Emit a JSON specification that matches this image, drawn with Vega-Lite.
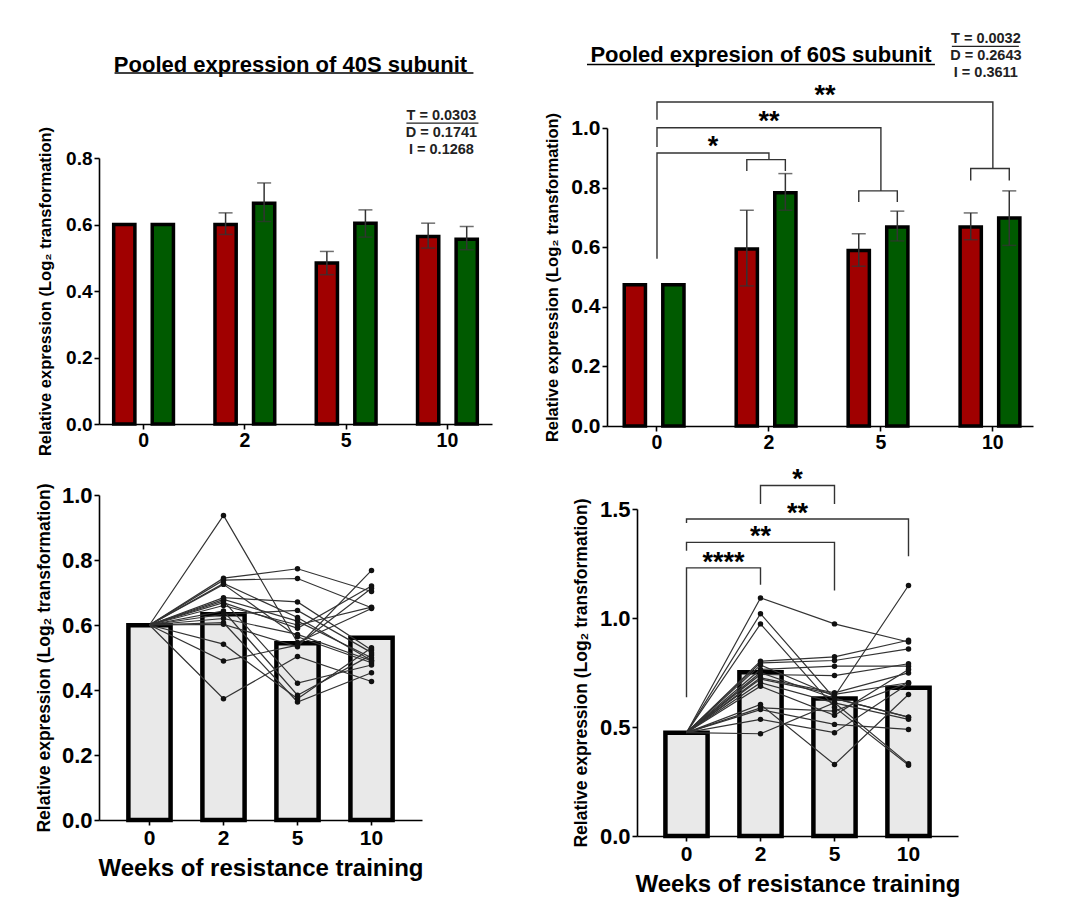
{
  "$schema": "https://vega.github.io/schema/vega-lite/v6.json",
  "background": "white",
  "padding": {"left": 35, "top": 30, "right": 5, "bottom": 5},
  "config": {
    "font": "Liberation Sans",
    "view": {"stroke": null},
    "axis": {"domainColor": "#000", "domainWidth": 1.6, "tickColor": "#000", "tickWidth": 1.6, "tickSize": 5, "labelColor": "#000", "labelFont": "Liberation Sans", "labelFontWeight": "bold", "labelPadding": 2, "titleFont": "Liberation Sans", "titleFontWeight": "bold", "titleColor": "#000", "grid": false},
    "axisX": {"labelAngle": 0},
    "text": {"font": "Liberation Sans", "color": "#000"}
  },
  "datasets": {
    "tl_bars": [
      {"week": 0, "grp": "G1", "mean": 0.600},
      {"week": 0, "grp": "G2", "mean": 0.600},
      {"week": 2, "grp": "G1", "mean": 0.600, "lo": 0.570, "hi": 0.635},
      {"week": 2, "grp": "G2", "mean": 0.664, "lo": 0.609, "hi": 0.725},
      {"week": 5, "grp": "G1", "mean": 0.484, "lo": 0.449, "hi": 0.519},
      {"week": 5, "grp": "G2", "mean": 0.604, "lo": 0.562, "hi": 0.644},
      {"week": 10, "grp": "G1", "mean": 0.564, "lo": 0.529, "hi": 0.604},
      {"week": 10, "grp": "G2", "mean": 0.556, "lo": 0.524, "hi": 0.594}
    ],
    "tr_bars": [
      {"week": 0, "grp": "G1", "mean": 0.474},
      {"week": 0, "grp": "G2", "mean": 0.474},
      {"week": 2, "grp": "G1", "mean": 0.594, "lo": 0.470, "hi": 0.724},
      {"week": 2, "grp": "G2", "mean": 0.783, "lo": 0.724, "hi": 0.847},
      {"week": 5, "grp": "G1", "mean": 0.589, "lo": 0.536, "hi": 0.645},
      {"week": 5, "grp": "G2", "mean": 0.668, "lo": 0.621, "hi": 0.721},
      {"week": 10, "grp": "G1", "mean": 0.668, "lo": 0.625, "hi": 0.715},
      {"week": 10, "grp": "G2", "mean": 0.698, "lo": 0.606, "hi": 0.789}
    ],
    "tr_brackets": [
      {"id": "a", "week": 0, "val": 0.561, "seq": 1}, {"id": "a", "week": 0, "val": 0.916, "seq": 2}, {"id": "a", "week": 2, "val": 0.916, "seq": 3}, {"id": "a", "week": 2, "val": 0.894, "seq": 4},
      {"id": "b", "week": 0, "val": 0.936, "seq": 1}, {"id": "b", "week": 0, "val": 1.001, "seq": 2}, {"id": "b", "week": 5, "val": 1.001, "seq": 3}, {"id": "b", "week": 5, "val": 0.789, "seq": 4},
      {"id": "c", "week": 0, "val": 1.028, "seq": 1}, {"id": "c", "week": 0, "val": 1.087, "seq": 2}, {"id": "c", "week": 10, "val": 1.087, "seq": 3}, {"id": "c", "week": 10, "val": 0.864, "seq": 4}
    ],
    "tr_sub": [
      {"id": "d", "week": 2, "grp": "G1", "val": 0.856, "seq": 1}, {"id": "d", "week": 2, "grp": "G1", "val": 0.894, "seq": 2}, {"id": "d", "week": 2, "grp": "G2", "val": 0.894, "seq": 3}, {"id": "d", "week": 2, "grp": "G2", "val": 0.856, "seq": 4},
      {"id": "e", "week": 5, "grp": "G1", "val": 0.752, "seq": 1}, {"id": "e", "week": 5, "grp": "G1", "val": 0.789, "seq": 2}, {"id": "e", "week": 5, "grp": "G2", "val": 0.789, "seq": 3}, {"id": "e", "week": 5, "grp": "G2", "val": 0.752, "seq": 4},
      {"id": "f", "week": 10, "grp": "G1", "val": 0.824, "seq": 1}, {"id": "f", "week": 10, "grp": "G1", "val": 0.864, "seq": 2}, {"id": "f", "week": 10, "grp": "G2", "val": 0.864, "seq": 3}, {"id": "f", "week": 10, "grp": "G2", "val": 0.824, "seq": 4}
    ],
    "bl_bars": [
      {"week": 0, "mean": 0.599}, {"week": 2, "mean": 0.633}, {"week": 5, "mean": 0.544}, {"week": 10, "mean": 0.561}
    ],
    "br_bars": [
      {"week": 0, "mean": 0.4735}, {"week": 2, "mean": 0.7515}, {"week": 5, "mean": 0.631}, {"week": 10, "mean": 0.680}
    ],
    "bl_subj": [
      {"s": 1, "week": 0, "v": 0.6}, {"s": 1, "week": 2, "v": 0.937}, {"s": 1, "week": 5, "v": 0.546}, {"s": 1, "week": 10, "v": 0.651},
      {"s": 2, "week": 0, "v": 0.6}, {"s": 2, "week": 2, "v": 0.744}, {"s": 2, "week": 5, "v": 0.773}, {"s": 2, "week": 10, "v": 0.703},
      {"s": 3, "week": 0, "v": 0.6}, {"s": 3, "week": 2, "v": 0.738}, {"s": 3, "week": 5, "v": 0.743}, {"s": 3, "week": 10, "v": 0.653},
      {"s": 4, "week": 0, "v": 0.6}, {"s": 4, "week": 2, "v": 0.728}, {"s": 4, "week": 5, "v": 0.623}, {"s": 4, "week": 10, "v": 0.491},
      {"s": 5, "week": 0, "v": 0.6}, {"s": 5, "week": 2, "v": 0.725}, {"s": 5, "week": 5, "v": 0.564}, {"s": 5, "week": 10, "v": 0.484},
      {"s": 6, "week": 0, "v": 0.6}, {"s": 6, "week": 2, "v": 0.684}, {"s": 6, "week": 5, "v": 0.671}, {"s": 6, "week": 10, "v": 0.523},
      {"s": 7, "week": 0, "v": 0.6}, {"s": 7, "week": 2, "v": 0.679}, {"s": 7, "week": 5, "v": 0.612}, {"s": 7, "week": 10, "v": 0.499},
      {"s": 8, "week": 0, "v": 0.6}, {"s": 8, "week": 2, "v": 0.674}, {"s": 8, "week": 5, "v": 0.421}, {"s": 8, "week": 10, "v": 0.477},
      {"s": 9, "week": 0, "v": 0.6}, {"s": 9, "week": 2, "v": 0.669}, {"s": 9, "week": 5, "v": 0.590}, {"s": 9, "week": 10, "v": 0.720},
      {"s": 10, "week": 0, "v": 0.6}, {"s": 10, "week": 2, "v": 0.643}, {"s": 10, "week": 5, "v": 0.384}, {"s": 10, "week": 10, "v": 0.508},
      {"s": 11, "week": 0, "v": 0.6}, {"s": 11, "week": 2, "v": 0.633}, {"s": 11, "week": 5, "v": 0.645}, {"s": 11, "week": 10, "v": 0.515},
      {"s": 12, "week": 0, "v": 0.6}, {"s": 12, "week": 2, "v": 0.607}, {"s": 12, "week": 5, "v": 0.363}, {"s": 12, "week": 10, "v": 0.453},
      {"s": 13, "week": 0, "v": 0.6}, {"s": 13, "week": 2, "v": 0.602}, {"s": 13, "week": 5, "v": 0.533}, {"s": 13, "week": 10, "v": 0.768},
      {"s": 14, "week": 0, "v": 0.6}, {"s": 14, "week": 2, "v": 0.541}, {"s": 14, "week": 5, "v": 0.373}, {"s": 14, "week": 10, "v": 0.530},
      {"s": 15, "week": 0, "v": 0.6}, {"s": 15, "week": 2, "v": 0.489}, {"s": 15, "week": 5, "v": 0.538}, {"s": 15, "week": 10, "v": 0.713},
      {"s": 16, "week": 0, "v": 0.6}, {"s": 16, "week": 2, "v": 0.373}, {"s": 16, "week": 5, "v": 0.503}, {"s": 16, "week": 10, "v": 0.426},
      {"s": 17, "week": 0, "v": 0.6}, {"s": 17, "week": 2, "v": 0.660}, {"s": 17, "week": 5, "v": 0.600}, {"s": 17, "week": 10, "v": 0.655},
      {"s": 18, "week": 0, "v": 0.6}, {"s": 18, "week": 2, "v": 0.620}, {"s": 18, "week": 5, "v": 0.571}, {"s": 18, "week": 10, "v": 0.490}
    ],
    "br_subj": [
      {"s": 1, "week": 0, "v": 0.474}, {"s": 1, "week": 2, "v": 1.092}, {"s": 1, "week": 5, "v": 0.973}, {"s": 1, "week": 10, "v": 0.890},
      {"s": 2, "week": 0, "v": 0.474}, {"s": 2, "week": 2, "v": 1.020}, {"s": 2, "week": 5, "v": 0.631}, {"s": 2, "week": 10, "v": 0.545},
      {"s": 3, "week": 0, "v": 0.474}, {"s": 3, "week": 2, "v": 0.973}, {"s": 3, "week": 5, "v": 0.591}, {"s": 3, "week": 10, "v": 0.325},
      {"s": 4, "week": 0, "v": 0.474}, {"s": 4, "week": 2, "v": 0.802}, {"s": 4, "week": 5, "v": 0.822}, {"s": 4, "week": 10, "v": 0.898},
      {"s": 5, "week": 0, "v": 0.474}, {"s": 5, "week": 2, "v": 0.794}, {"s": 5, "week": 5, "v": 0.805}, {"s": 5, "week": 10, "v": 0.858},
      {"s": 6, "week": 0, "v": 0.474}, {"s": 6, "week": 2, "v": 0.784}, {"s": 6, "week": 5, "v": 0.641}, {"s": 6, "week": 10, "v": 1.149},
      {"s": 7, "week": 0, "v": 0.474}, {"s": 7, "week": 2, "v": 0.764}, {"s": 7, "week": 5, "v": 0.779}, {"s": 7, "week": 10, "v": 0.779},
      {"s": 8, "week": 0, "v": 0.474}, {"s": 8, "week": 2, "v": 0.741}, {"s": 8, "week": 5, "v": 0.736}, {"s": 8, "week": 10, "v": 0.790},
      {"s": 9, "week": 0, "v": 0.474}, {"s": 9, "week": 2, "v": 0.726}, {"s": 9, "week": 5, "v": 0.657}, {"s": 9, "week": 10, "v": 0.748},
      {"s": 10, "week": 0, "v": 0.474}, {"s": 10, "week": 2, "v": 0.703}, {"s": 10, "week": 5, "v": 0.611}, {"s": 10, "week": 10, "v": 0.535},
      {"s": 11, "week": 0, "v": 0.474}, {"s": 11, "week": 2, "v": 0.687}, {"s": 11, "week": 5, "v": 0.554}, {"s": 11, "week": 10, "v": 0.764},
      {"s": 12, "week": 0, "v": 0.474}, {"s": 12, "week": 2, "v": 0.603}, {"s": 12, "week": 5, "v": 0.328}, {"s": 12, "week": 10, "v": 0.649},
      {"s": 13, "week": 0, "v": 0.474}, {"s": 13, "week": 2, "v": 0.588}, {"s": 13, "week": 5, "v": 0.573}, {"s": 13, "week": 10, "v": 0.703},
      {"s": 14, "week": 0, "v": 0.474}, {"s": 14, "week": 2, "v": 0.580}, {"s": 14, "week": 5, "v": 0.512}, {"s": 14, "week": 10, "v": 0.489},
      {"s": 15, "week": 0, "v": 0.474}, {"s": 15, "week": 2, "v": 0.535}, {"s": 15, "week": 5, "v": 0.474}, {"s": 15, "week": 10, "v": 0.698},
      {"s": 16, "week": 0, "v": 0.474}, {"s": 16, "week": 2, "v": 0.469}, {"s": 16, "week": 5, "v": 0.611}, {"s": 16, "week": 10, "v": 0.331},
      {"s": 17, "week": 0, "v": 0.474}, {"s": 17, "week": 2, "v": 0.750}, {"s": 17, "week": 5, "v": 0.631}, {"s": 17, "week": 10, "v": 0.545},
      {"s": 18, "week": 0, "v": 0.474}, {"s": 18, "week": 2, "v": 0.720}, {"s": 18, "week": 5, "v": 0.650}, {"s": 18, "week": 10, "v": 0.703}
    ],
    "br_brackets": [
      {"id": "a", "week": 2, "val": 1.523, "seq": 1}, {"id": "a", "week": 2, "val": 1.608, "seq": 2}, {"id": "a", "week": 5, "val": 1.608, "seq": 3}, {"id": "a", "week": 5, "val": 1.523, "seq": 4},
      {"id": "b", "week": 0, "val": 1.436, "seq": 1}, {"id": "b", "week": 0, "val": 1.454, "seq": 2}, {"id": "b", "week": 10, "val": 1.454, "seq": 3}, {"id": "b", "week": 10, "val": 1.283, "seq": 4},
      {"id": "c", "week": 0, "val": 1.309, "seq": 1}, {"id": "c", "week": 0, "val": 1.347, "seq": 2}, {"id": "c", "week": 5, "val": 1.347, "seq": 3}, {"id": "c", "week": 5, "val": 1.126, "seq": 4},
      {"id": "d", "week": 0, "val": 0.637, "seq": 1}, {"id": "d", "week": 0, "val": 1.230, "seq": 2}, {"id": "d", "week": 2, "val": 1.230, "seq": 3}, {"id": "d", "week": 2, "val": 1.153, "seq": 4}
    ]
  },
  "spacing": 10,
  "vconcat": [
    {
      "spacing": 52,
      "hconcat": [
        {
          "width": 393,
          "height": 296,
          "layer": [
            {
              "data": {"name": "tl_bars"},
              "mark": {"type": "bar", "stroke": "#000", "strokeWidth": 3.5},
              "encoding": {
                "x": {"field": "week", "type": "ordinal", "scale": {"paddingInner": 0.41, "paddingOuter": 0.145}, "axis": {"title": null, "labelFontSize": 19.5}},
                "xOffset": {"field": "grp", "type": "nominal", "scale": {"domain": ["G1", "G2"], "paddingInner": 0.45, "paddingOuter": 0}},
                "y": {"field": "mean", "type": "quantitative", "scale": {"domain": [0, 0.8], "range": [296, 30]}, "axis": {"values": [0, 0.2, 0.4, 0.6, 0.8], "format": ".1f", "labelFontSize": 19, "title": "Relative expression (Log₂ transformation)", "titleFontSize": 16.5, "titlePadding": 12}},
                "color": {"field": "grp", "type": "nominal", "scale": {"domain": ["G1", "G2"], "range": ["#a00000", "#005a00"]}, "legend": null}
              }
            },
            {
              "data": {"name": "tl_bars"},
              "transform": [{"filter": "datum.hi != null"}],
              "mark": {"type": "rule", "color": "#333", "strokeWidth": 1.5},
              "encoding": {"x": {"field": "week", "type": "ordinal"}, "xOffset": {"field": "grp", "type": "nominal"}, "y": {"field": "lo", "type": "quantitative", "scale": {"domain": [0, 0.8], "range": [296, 30]}}, "y2": {"field": "hi"}}
            },
            {
              "data": {"name": "tl_bars"},
              "transform": [{"filter": "datum.hi != null"}],
              "mark": {"type": "tick", "orient": "horizontal", "size": 14, "thickness": 1.5, "color": "#333"},
              "encoding": {"x": {"field": "week", "type": "ordinal"}, "xOffset": {"field": "grp", "type": "nominal"}, "y": {"field": "hi", "type": "quantitative", "scale": {"domain": [0, 0.8], "range": [296, 30]}}}
            },
            {
              "data": {"name": "tl_bars"},
              "transform": [{"filter": "datum.hi != null"}],
              "mark": {"type": "tick", "orient": "horizontal", "size": 14, "thickness": 1.5, "color": "#333"},
              "encoding": {"x": {"field": "week", "type": "ordinal"}, "xOffset": {"field": "grp", "type": "nominal"}, "y": {"field": "lo", "type": "quantitative", "scale": {"domain": [0, 0.8], "range": [296, 30]}}}
            },
            {
              "data": {"values": [{"t": "Pooled expression of 40S subunit"}]},
              "mark": {"type": "text", "fontSize": 22, "fontWeight": "bold", "dx": -5},
              "encoding": {"text": {"field": "t"}, "y": {"datum": 1.08}}
            },
            {
              "data": {"values": [{}]},
              "mark": {"type": "rule", "color": "#000", "strokeWidth": 1.5, "xOffset": -29, "x2Offset": 26},
              "encoding": {"x": {"datum": 0, "type": "ordinal"}, "x2": {"datum": 10}, "y": {"datum": 1.056}}
            },
            {
              "data": {"values": [{"t": "T = 0.0303", "week": 10, "v": 0.926}, {"t": "D = 0.1741", "week": 10, "v": 0.875}, {"t": "I = 0.1268", "week": 10, "v": 0.824}]},
              "mark": {"type": "text", "fontSize": 14.5, "fontWeight": "bold", "color": "#222", "dx": -6},
              "encoding": {"text": {"field": "t"}, "x": {"field": "week", "type": "ordinal"}, "y": {"field": "v", "type": "quantitative", "scale": {"domain": [0, 0.8], "range": [296, 30]}}}
            },
            {
              "data": {"values": [{}]},
              "mark": {"type": "rule", "color": "#222", "strokeWidth": 1.2, "xOffset": -41, "x2Offset": 31},
              "encoding": {"x": {"datum": 10, "type": "ordinal"}, "x2": {"datum": 10}, "y": {"datum": 0.905}}
            }
          ]
        },
        {
          "width": 426,
          "height": 298,
          "layer": [
            {
              "data": {"name": "tr_bars"},
              "mark": {"type": "bar", "stroke": "#000", "strokeWidth": 3.5},
              "encoding": {
                "x": {"field": "week", "type": "ordinal", "scale": {"paddingInner": 0.415, "paddingOuter": 0.11, "align": 0.7}, "axis": {"title": null, "labelFontSize": 19.5}},
                "xOffset": {"field": "grp", "type": "nominal", "scale": {"domain": ["G1", "G2"], "paddingInner": 0.44, "paddingOuter": 0}},
                "y": {"field": "mean", "type": "quantitative", "scale": {"domain": [0, 1]}, "axis": {"values": [0, 0.2, 0.4, 0.6, 0.8, 1.0], "format": ".1f", "labelFontSize": 21, "title": "Relative expression (Log₂ transformation)", "titleFontSize": 16.5, "titlePadding": 10}},
                "color": {"field": "grp", "type": "nominal", "scale": {"domain": ["G1", "G2"], "range": ["#a00000", "#005a00"]}, "legend": null}
              }
            },
            {
              "data": {"name": "tr_bars"},
              "transform": [{"filter": "datum.hi != null"}],
              "mark": {"type": "rule", "color": "#333", "strokeWidth": 1.5},
              "encoding": {"x": {"field": "week", "type": "ordinal"}, "xOffset": {"field": "grp", "type": "nominal"}, "y": {"field": "lo", "type": "quantitative", "scale": {"domain": [0, 1]}}, "y2": {"field": "hi"}}
            },
            {
              "data": {"name": "tr_bars"},
              "transform": [{"filter": "datum.hi != null"}],
              "mark": {"type": "tick", "orient": "horizontal", "size": 14, "thickness": 1.5, "color": "#333"},
              "encoding": {"x": {"field": "week", "type": "ordinal"}, "xOffset": {"field": "grp", "type": "nominal"}, "y": {"field": "hi", "type": "quantitative", "scale": {"domain": [0, 1]}}}
            },
            {
              "data": {"name": "tr_bars"},
              "transform": [{"filter": "datum.hi != null"}],
              "mark": {"type": "tick", "orient": "horizontal", "size": 14, "thickness": 1.5, "color": "#333"},
              "encoding": {"x": {"field": "week", "type": "ordinal"}, "xOffset": {"field": "grp", "type": "nominal"}, "y": {"field": "lo", "type": "quantitative", "scale": {"domain": [0, 1]}}}
            },
            {
              "data": {"name": "tr_brackets"},
              "mark": {"type": "line", "color": "#333", "strokeWidth": 1.4},
              "encoding": {"x": {"field": "week", "type": "ordinal"}, "y": {"field": "val", "type": "quantitative", "scale": {"domain": [0, 1]}}, "detail": {"field": "id"}, "order": {"field": "seq"}}
            },
            {
              "data": {"name": "tr_sub"},
              "mark": {"type": "line", "color": "#333", "strokeWidth": 1.4},
              "encoding": {"x": {"field": "week", "type": "ordinal"}, "xOffset": {"field": "grp", "type": "nominal"}, "y": {"field": "val", "type": "quantitative", "scale": {"domain": [0, 1]}}, "detail": {"field": "id"}, "order": {"field": "seq"}}
            },
            {
              "data": {"values": [{"week": 2, "val": 1.001, "s": "**"}]},
              "mark": {"type": "text", "fontSize": 27, "fontWeight": "bold", "baseline": "alphabetic", "dy": 2},
              "encoding": {"text": {"field": "s"}, "x": {"field": "week", "type": "ordinal"}, "y": {"field": "val", "type": "quantitative", "scale": {"domain": [0, 1]}}}
            },
            {
              "data": {"values": [{"week": 0, "val": 0.916, "s": "*"}, {"week": 2, "val": 1.087, "s": "**"}]},
              "mark": {"type": "text", "fontSize": 27, "fontWeight": "bold", "baseline": "alphabetic", "dx": 56, "dy": 2},
              "encoding": {"text": {"field": "s"}, "x": {"field": "week", "type": "ordinal"}, "y": {"field": "val", "type": "quantitative", "scale": {"domain": [0, 1]}}}
            },
            {
              "data": {"values": [{"t": "Pooled expresion of 60S subunit", "week": 2}]},
              "mark": {"type": "text", "fontSize": 22, "fontWeight": "bold", "dx": -8},
              "encoding": {"text": {"field": "t"}, "x": {"field": "week", "type": "ordinal"}, "y": {"datum": 1.245}}
            },
            {
              "data": {"values": [{}]},
              "mark": {"type": "rule", "color": "#000", "strokeWidth": 1.5, "xOffset": -70, "x2Offset": 54},
              "encoding": {"x": {"datum": 0, "type": "ordinal"}, "x2": {"datum": 5}, "y": {"datum": 1.213}}
            },
            {
              "data": {"values": [{"t": "T = 0.0032", "week": 10, "v": 1.299}, {"t": "D = 0.2643", "week": 10, "v": 1.243}, {"t": "I = 0.3611", "week": 10, "v": 1.186}]},
              "mark": {"type": "text", "fontSize": 14.5, "fontWeight": "bold", "color": "#222", "dx": -7},
              "encoding": {"text": {"field": "t"}, "x": {"field": "week", "type": "ordinal"}, "y": {"field": "v", "type": "quantitative", "scale": {"domain": [0, 1]}}}
            },
            {
              "data": {"values": [{}]},
              "mark": {"type": "rule", "color": "#222", "strokeWidth": 1.2, "xOffset": -41, "x2Offset": 26},
              "encoding": {"x": {"datum": 10, "type": "ordinal"}, "x2": {"datum": 10}, "y": {"datum": 1.274}}
            }
          ]
        }
      ]
    },
    {
      "spacing": 148,
      "hconcat": [
        {
          "width": 323,
          "height": 325,
          "layer": [
            {
              "data": {"name": "bl_bars"},
              "mark": {"type": "bar", "fill": "#e9e9e9", "stroke": "#000", "strokeWidth": 4.5},
              "encoding": {
                "x": {"field": "week", "type": "ordinal", "scale": {"paddingInner": 0.43, "paddingOuter": 0.397}, "axis": {"title": "Weeks of resistance training", "titleFontSize": 24, "titlePadding": 8, "labelFontSize": 21}},
                "y": {"field": "mean", "type": "quantitative", "scale": {"domain": [0, 1]}, "axis": {"values": [0, 0.2, 0.4, 0.6, 0.8, 1.0], "format": ".1f", "labelFontSize": 22, "title": "Relative expression (Log₂ transformation)", "titleFontSize": 17.5, "titlePadding": 8}}
              }
            },
            {
              "data": {"name": "bl_subj"},
              "mark": {"type": "line", "color": "#333", "strokeWidth": 1.2},
              "encoding": {"x": {"field": "week", "type": "ordinal"}, "y": {"field": "v", "type": "quantitative", "scale": {"domain": [0, 1]}}, "detail": {"field": "s"}}
            },
            {
              "data": {"name": "bl_subj"},
              "transform": [{"filter": "datum.week != 0"}],
              "mark": {"type": "point", "filled": true, "color": "#111", "size": 30, "opacity": 1},
              "encoding": {"x": {"field": "week", "type": "ordinal"}, "y": {"field": "v", "type": "quantitative", "scale": {"domain": [0, 1]}}}
            }
          ]
        },
        {
          "width": 321,
          "height": 341,
          "layer": [
            {
              "data": {"name": "br_bars"},
              "mark": {"type": "bar", "fill": "#e9e9e9", "stroke": "#000", "strokeWidth": 4.5},
              "encoding": {
                "x": {"field": "week", "type": "ordinal", "scale": {"paddingInner": 0.43, "paddingOuter": 0.384}, "axis": {"title": "Weeks of resistance training", "titleFontSize": 24, "titlePadding": 8, "labelFontSize": 21}},
                "y": {"field": "mean", "type": "quantitative", "scale": {"domain": [0, 1.5], "range": [341, 14]}, "axis": {"values": [0, 0.5, 1.0, 1.5], "format": ".1f", "labelFontSize": 22, "title": "Relative expression (Log₂ transformation)", "titleFontSize": 17.5, "titlePadding": 9}}
              }
            },
            {
              "data": {"name": "br_subj"},
              "mark": {"type": "line", "color": "#333", "strokeWidth": 1.2},
              "encoding": {"x": {"field": "week", "type": "ordinal"}, "y": {"field": "v", "type": "quantitative", "scale": {"domain": [0, 1.5], "range": [341, 14]}}, "detail": {"field": "s"}}
            },
            {
              "data": {"name": "br_subj"},
              "transform": [{"filter": "datum.week != 0"}],
              "mark": {"type": "point", "filled": true, "color": "#111", "size": 30, "opacity": 1},
              "encoding": {"x": {"field": "week", "type": "ordinal"}, "y": {"field": "v", "type": "quantitative", "scale": {"domain": [0, 1.5], "range": [341, 14]}}}
            },
            {
              "data": {"name": "br_brackets"},
              "mark": {"type": "line", "color": "#333", "strokeWidth": 1.4},
              "encoding": {"x": {"field": "week", "type": "ordinal"}, "y": {"field": "val", "type": "quantitative", "scale": {"domain": [0, 1.5], "range": [341, 14]}}, "detail": {"field": "id"}, "order": {"field": "seq"}}
            },
            {
              "data": {"values": [{"week": 2, "val": 1.347, "s": "**"}]},
              "mark": {"type": "text", "fontSize": 27, "fontWeight": "bold", "baseline": "alphabetic", "dy": 3},
              "encoding": {"text": {"field": "s"}, "x": {"field": "week", "type": "ordinal"}, "y": {"field": "val", "type": "quantitative", "scale": {"domain": [0, 1.5], "range": [341, 14]}}}
            },
            {
              "data": {"values": [{"week": 0, "val": 1.23, "s": "****"}, {"week": 2, "val": 1.608, "s": "*"}, {"week": 2, "val": 1.454, "s": "**"}]},
              "mark": {"type": "text", "fontSize": 27, "fontWeight": "bold", "baseline": "alphabetic", "dx": 37, "dy": 3},
              "encoding": {"text": {"field": "s"}, "x": {"field": "week", "type": "ordinal"}, "y": {"field": "val", "type": "quantitative", "scale": {"domain": [0, 1.5], "range": [341, 14]}}}
            }
          ]
        }
      ]
    }
  ]
}
